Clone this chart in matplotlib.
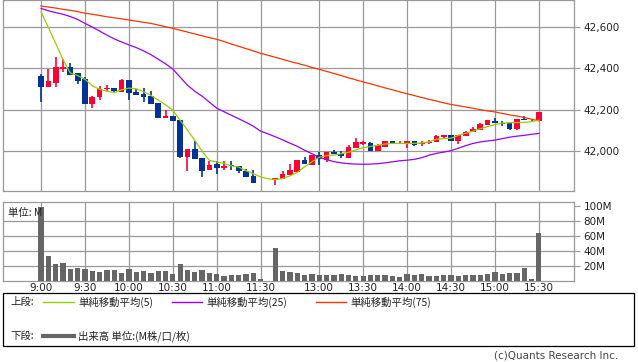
import matplotlib
matplotlib.use("Agg")
import matplotlib.pyplot as plt
from matplotlib.patches import Rectangle
from matplotlib.lines import Line2D
import numpy as np

plt.rcParams['font.family'] = ['DejaVu Sans', 'Noto Sans CJK JP']

# 5-minute candles, slot 31 is the lunch break gap (no volume)
opens = [42363, 42311, 42331, 42397, 42407, 42379, 42347, 42229, 42263, 42302,
         42305, 42287, 42344, 42287, 42279, 42266, 42234, 42161, 42169, 42153,
         41972, 42010, 41968, 41908, 41937, 41921, 41932, 41931, 41907, 41882,
         41846, 41848, 41860, 41865, 41885, 41902, 41956, 41932, 41981, 41960,
         41997, 41989, 41969, 42018, 42037, 42040, 42001, 42021, 42050, 42037,
         42033, 42048, 42036, 42040, 42047, 42070, 42081, 42050, 42074, 42091,
         42102, 42129, 42148, 42139, 42139, 42110, 42158, 42150, 42147]
highs = [42373, 42397, 42455, 42444, 42427, 42379, 42357, 42268, 42315, 42318,
         42305, 42348, 42344, 42299, 42308, 42292, 42234, 42198, 42169, 42153,
         42010, 42050, 41968, 41953, 41953, 41952, 41955, 41931, 41916, 41911,
         41848, 41848, 41873, 41905, 41937, 41956, 41971, 41981, 41997, 41997,
         42008, 42001, 42032, 42064, 42050, 42047, 42034, 42050, 42050, 42050,
         42052, 42052, 42050, 42056, 42081, 42081, 42081, 42077, 42098, 42118,
         42139, 42153, 42160, 42147, 42139, 42155, 42169, 42152, 42189]
lows = [42239, 42311, 42311, 42384, 42370, 42323, 42229, 42207, 42250, 42289,
        42282, 42287, 42247, 42273, 42239, 42229, 42161, 42161, 42147, 41967,
        41905, 41961, 41876, 41908, 41892, 41908, 41908, 41895, 41876, 41847,
        41846, 41846, 41835, 41865, 41885, 41902, 41937, 41932, 41934, 41948,
        41985, 41969, 41969, 42018, 42030, 42001, 42001, 42021, 42034, 42034,
        42018, 42025, 42025, 42034, 42047, 42065, 42050, 42034, 42074, 42091,
        42102, 42129, 42135, 42121, 42105, 42105, 42150, 42148, 42147]
closes = [42311, 42340, 42407, 42408, 42370, 42340, 42229, 42261, 42302, 42305,
          42292, 42344, 42283, 42273, 42261, 42229, 42161, 42169, 42147, 41972,
          42010, 41961, 41905, 41934, 41919, 41929, 41929, 41905, 41876, 41847,
          41848, 41846, 41873, 41890, 41908, 41956, 41937, 41981, 41961, 41997,
          41985, 41976, 42021, 42043, 42043, 42001, 42029, 42048, 42034, 42042,
          42052, 42032, 42042, 42047, 42076, 42081, 42050, 42077, 42092, 42108,
          42132, 42153, 42135, 42134, 42110, 42155, 42150, 42151, 42189]

ma5 = [42674, 42598, 42521, 42443, 42378, 42366, 42348, 42316, 42299, 42290,
       42284, 42297, 42305, 42302, 42288, 42270, 42247, 42225, 42198, 42150,
       42102, 42053, 42000, 41956, 41948, 41942, 41929, 41924, 41906, 41891,
       41876, 41867, 41863, 41868, 41881, 41898, 41925, 41949, 41971, 41979,
       41982, 41988, 41995, 42007, 42017, 42023, 42029, 42035, 42038, 42038,
       42038, 42038, 42040, 42045, 42058, 42061, 42063, 42077, 42087, 42097,
       42109, 42119, 42129, 42136, 42138, 42139, 42139, 42143, 42150]
ma25 = [42690, 42679, 42670, 42662, 42651, 42637, 42618, 42600, 42581, 42561,
        42543, 42528, 42514, 42501, 42485, 42467, 42445, 42423, 42397, 42358,
        42319, 42290, 42266, 42237, 42208, 42191, 42174, 42157, 42140, 42121,
        42097, 42084, 42070, 42055, 42039, 42024, 42005, 41988, 41971, 41959,
        41950, 41944, 41940, 41938, 41937, 41938, 41940, 41944, 41949, 41954,
        41957, 41961, 41969, 41981, 41990, 41996, 42003, 42015, 42027, 42038,
        42045, 42050, 42054, 42061, 42068, 42073, 42077, 42082, 42086]
ma75 = [42702, 42697, 42692, 42686, 42681, 42675, 42667, 42662, 42656, 42650,
        42645, 42640, 42634, 42629, 42623, 42618, 42610, 42602, 42594, 42585,
        42576, 42567, 42558, 42549, 42541, 42530, 42518, 42507, 42496, 42485,
        42473, 42464, 42454, 42444, 42434, 42425, 42416, 42405, 42396, 42386,
        42376, 42366, 42355, 42345, 42335, 42326, 42316, 42306, 42297, 42287,
        42278, 42269, 42260, 42251, 42243, 42234, 42226, 42220, 42214, 42208,
        42201, 42195, 42190, 42183, 42176, 42170, 42163, 42155, 42147]

volume = [98, 32.6, 22.3, 23.7, 15.3, 16.7, 15.3, 12.6, 11.6, 14,
          14, 9.8, 15.3, 11.6, 12.6, 9.8, 12.6, 12.6, 8.4, 22.3,
          14, 11.6, 14, 9.8, 8.4, 6, 7, 7, 8.4, 9.8,
          1.4, 0, 43, 12.6, 11, 10, 7.4, 8.4, 7, 7,
          7, 8.4, 7, 6, 6, 7, 7, 7, 6, 4.6,
          8.4, 7, 8.4, 6, 6, 7, 7, 6, 7, 7,
          7, 8.4, 11.6, 8.4, 10, 10, 17, 1.4, 63]

tick_pos = [0, 6, 12, 18, 24, 30, 38, 44, 50, 56, 62, 68]
tick_labels = ['9:00', '9:30', '10:00', '10:30', '11:00', '11:30',
               '13:00', '13:30', '14:00', '14:30', '15:00', '15:30']
price_ticks = [42000, 42200, 42400, 42600]
vol_ticks = [20, 40, 60, 80, 100]

W, H = 638, 362
UP, DOWN = '#ff0033', '#003399'
GRID = '#999999'
JP = ['Noto Sans CJK JP', 'DejaVu Sans']

fig = plt.figure(figsize=(W / 100, H / 100), dpi=100)
ax = fig.add_axes([3 / W, 1 - 191 / H, 571 / W, 191 / H])
axv = fig.add_axes([3 / W, 1 - 280.5 / H, 571 / W, 78.5 / H])

x = np.arange(len(opens))
o = np.array(opens); c = np.array(closes)
colors = [UP if cc >= oo else DOWN for oo, cc in zip(o, c)]
body_lo = np.minimum(o, c)
body_h = np.maximum(np.abs(c - o), 1.5)

ax.vlines(x, lows, highs, colors=colors, linewidth=1.2, zorder=3)
ax.bar(x, body_h, bottom=body_lo, width=0.78, color=colors, linewidth=0, zorder=3)
ax.plot(x, ma75, color='#ff3300', linewidth=0.9, zorder=4)
ax.plot(x, ma25, color='#9900ff', linewidth=0.9, zorder=4)
ax.plot(x, ma5, color='#99cc00', linewidth=0.9, zorder=4)

axv.bar(x, volume, width=0.72, color='#666666', linewidth=0, zorder=3)

for a in (ax, axv):
    a.set_xlim(-5.2, 72.8)
    a.set_xticks(tick_pos)
    a.grid(True, color=GRID, linewidth=0.9, zorder=0)
    for s in a.spines.values():
        s.set_color(GRID)
        s.set_linewidth(0.9)
    a.yaxis.tick_right()
    a.tick_params(axis='y', length=4, color=GRID, labelsize=7.5, pad=3,
                  labelcolor='#222222')
    a.tick_params(axis='x', length=0)
    a.set_axisbelow(True)

ax.set_ylim(41808, 42731)
ax.set_yticks(price_ticks)
ax.set_yticklabels([f'{v:,}' for v in price_ticks])
ax.set_xticklabels([])

axv.set_ylim(0, 105)
axv.set_yticks(vol_ticks)
axv.set_yticklabels([f'{v}M' for v in vol_ticks])
axv.get_ygridlines()[-1].set_visible(False)
axv.set_xticklabels(tick_labels)
axv.tick_params(axis='x', labelsize=7.5, pad=2, labelcolor='#222222')
axv.text(0.008, 0.93, '単位: M', transform=axv.transAxes, ha='left', va='top',
         fontsize=7.5, family=JP, color='#222222', zorder=5)


def fx(px):
    return px / W


def fy(py):
    return 1 - py / H


fig.patches.append(Rectangle((fx(3), fy(346)), fx(631), 53 / H, transform=fig.transFigure,
                             fill=False, edgecolor='black', linewidth=0.9))

row1, row2 = 302, 336
fig.text(fx(10), fy(row1), '上段:', fontsize=7.5, family=JP, va='center', color='#222222')
items = [(43, 74, '#99cc00', '単純移動平均(5)'),
         (172, 202, '#9900ff', '単純移動平均(25)'),
         (316, 346, '#ff3300', '単純移動平均(75)')]
for x0, x1, col, lab in items:
    fig.add_artist(Line2D([fx(x0), fx(x1)], [fy(row1), fy(row1)], color=col, linewidth=1,
                          transform=fig.transFigure))
    fig.text(fx(x1 + 4), fy(row1), lab, fontsize=7.5, family=JP, va='center', color='#222222')

fig.text(fx(10), fy(row2), '下段:', fontsize=7.5, family=JP, va='center', color='#222222')
fig.add_artist(Line2D([fx(43), fx(74)], [fy(row2), fy(row2)], color='#666666', linewidth=3,
                      transform=fig.transFigure))
fig.text(fx(78), fy(row2), '出来高 単位:(M株/口/枚)', fontsize=7.5, family=JP, va='center',
         color='#222222')

fig.text(fx(618), fy(356), '(c)Quants Research Inc.', fontsize=7.5, ha='right', va='center',
         color='#444444')

fig.savefig('out.png', dpi=100)
